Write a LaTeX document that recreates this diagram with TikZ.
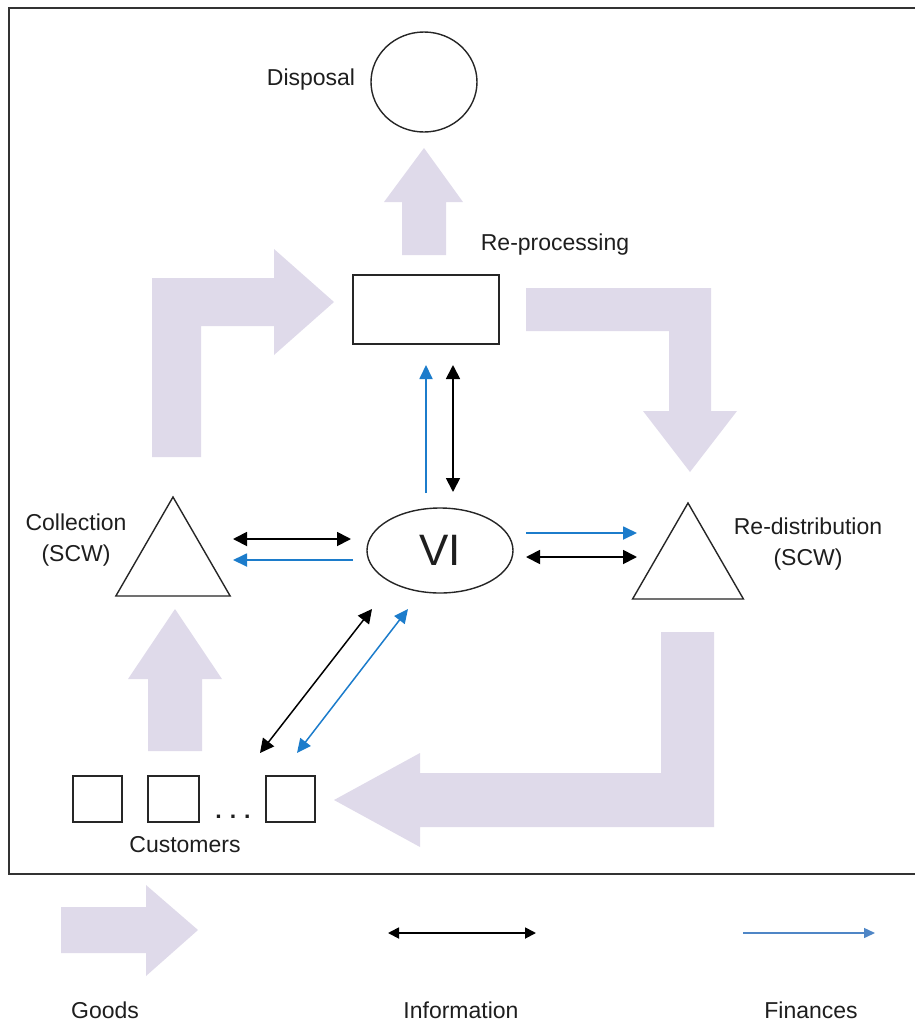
\documentclass[tikz,border=0pt]{standalone}
\usepackage{fontspec}
\setmainfont{Liberation Sans}
\usetikzlibrary{arrows.meta,shapes.geometric,calc}
\definecolor{goodsfill}{HTML}{DFDAEA}
\definecolor{finblue}{HTML}{1C7CCB}
\definecolor{legblue}{HTML}{4F86C6}
\definecolor{inkgray}{HTML}{1E1E1E}

\begin{document}
\begin{tikzpicture}[x=1pt,y=-1pt,
  outline/.style={draw=black!85, line width=1.4pt, fill=white, inner sep=0pt},
  lbl/.style={font=\fontsize{23}{31}\selectfont, text=inkgray, align=center, inner sep=0pt},
  goods/.style={fill=goodsfill, draw=none},
  info/.style={draw=black, line width=1.8pt,
    {Triangle[length=14pt,width=14pt]}-{Triangle[length=14pt,width=14pt]}},
  fin/.style={draw=finblue, line width=1.8pt, -{Triangle[length=14pt,width=13pt]}},
  finboth/.style={draw=finblue, line width=1.8pt,
    {Triangle[length=14pt,width=13pt]}-{Triangle[length=14pt,width=13pt]}},
]
\useasboundingbox (0,0) rectangle (914,1021);

% frame around the network
\draw[black!80, line width=1.6pt] (916,8) -- (9,8) -- (9,874) -- (916,874);

% flow of goods
\fill[goods] (402,255) -- (402,202) -- (384,202) -- (424,148) -- (463,202) -- (446,202) -- (446,255) -- cycle;
\fill[goods] (152,457) -- (152,278) -- (274,278) -- (274,249) -- (334,302) -- (274,355) -- (274,326) -- (201,326) -- (201,457) -- cycle;
\fill[goods] (526,288) -- (711,288) -- (711,411) -- (737,411) -- (690,472) -- (643,411) -- (669,411) -- (669,331) -- (526,331) -- cycle;
\fill[goods] (714,632) -- (714,827) -- (420,827) -- (420,847) -- (334,800) -- (420,753) -- (420,773) -- (661,773) -- (661,632) -- cycle;
\fill[goods] (148,751) -- (148,679) -- (128,679) -- (175,609) -- (222,679) -- (202,679) -- (202,751) -- cycle;

% actors
\node[outline, ellipse, minimum width=106pt, minimum height=100pt] (DP) at (424,82) {};
\node[lbl] (DPlabel) at (311,80) {Disposal};
\node[outline, rectangle, minimum width=146pt, minimum height=69pt] (RP) at (426,309.5) {};
\node[lbl] (RPlabel) at (555,245) {Re-processing};
\node[outline, ellipse, minimum width=146pt, minimum height=85pt,
      font=\fontsize{44}{44}\selectfont, text=inkgray] (VI) at (440,550.5) {VI};
\node[outline, regular polygon, regular polygon sides=3, minimum size=132pt] (COL) at (173,563) {};
\node[lbl] (COLlabel) at (76,540.5) {Collection\\(SCW)};
\node[outline, regular polygon, regular polygon sides=3, minimum size=128pt] (RD) at (688,567) {};
\node[lbl] (RDlabel) at (808,544) {Re-distribution\\(SCW)};
\node[outline, rectangle, minimum width=49pt, minimum height=46pt] (C1) at (97.5,799) {};
\node[outline, rectangle, minimum width=51pt, minimum height=46pt] (C2) at (173.5,799) {};
\node[outline, rectangle, minimum width=49pt, minimum height=46pt] (C3) at (290.5,799) {};
\node[lbl, anchor=base, font=\fontsize{23}{31}\selectfont\bfseries] (dots) at (233,818) {.\hspace{8pt}.\hspace{8pt}.};
\node[lbl] (CUlabel) at (185,845) {Customers};

% information flows
\draw[info] ($(VI)+(13,-58.5)$) -- ($(RP)+(27,55.5)$);
\draw[info] ($(VI)+(-89,-11.5)$) -- ($(COL)+(60,-24)$);
\draw[info] ($(VI)+(86,6.5)$) -- ($(RD)+(-51,-10)$);
\draw[info, line width=1.5pt] ($(VI)+(-68,58.5)$) -- ($(C3)+(-30.5,-46)$);

% financial flows
\draw[fin] ($(VI)+(-14,-57.5)$) -- ($(RP)+(0,55.5)$);
\draw[fin] ($(VI)+(-87,9.5)$) -- ($(COL)+(60,-3)$);
\draw[fin] ($(VI)+(86,-17.5)$) -- ($(RD)+(-51,-34)$);
\draw[finboth, line width=1.5pt] ($(VI)+(-32,58.5)$) -- ($(C3)+(6.5,-46)$);

% legend
\fill[goods] (61,953) -- (61,907) -- (146,907) -- (146,885) -- (198,930) -- (146,976) -- (146,953) -- cycle;
\coordinate (Ia) at (388,933);
\coordinate (Ib) at (536,933);
\draw[draw=black, line width=1.8pt,
  {Triangle[length=11pt,width=11pt]}-{Triangle[length=11pt,width=11pt]}] (Ia) -- (Ib);
\coordinate (Fa) at (743,933);
\coordinate (Fb) at (875,933);
\draw[draw=legblue, line width=1.5pt, -{Triangle[length=11pt,width=10pt]}] (Fa) -- (Fb);
\node[lbl] (Lgoods) at (105,1010) {Goods};
\node[lbl] (Linfo) at (461,1010) {Information};
\node[lbl] (Lfin) at (811,1010) {Finances};
\end{tikzpicture}
\end{document}
